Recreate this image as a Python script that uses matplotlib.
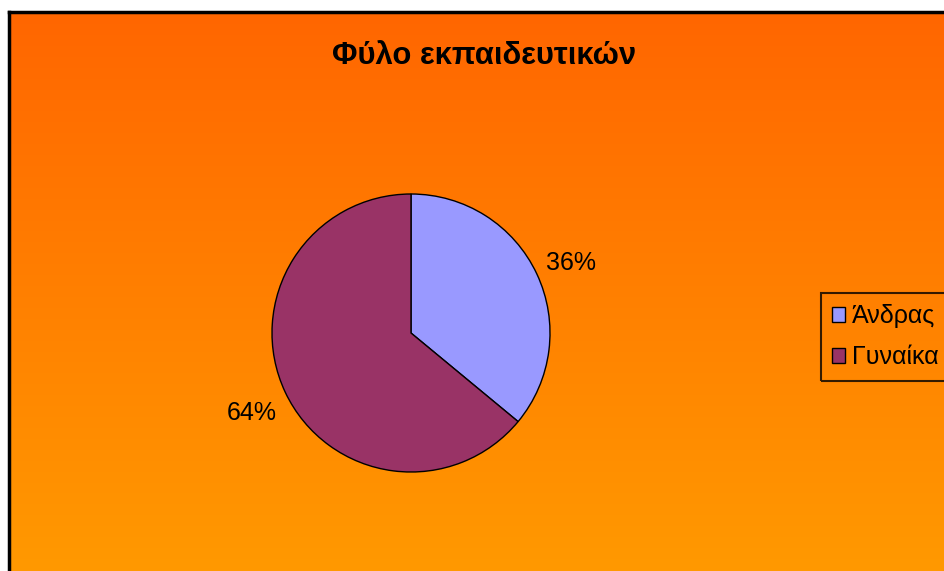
import numpy as np
import matplotlib
matplotlib.use("Agg")
import matplotlib.pyplot as plt
from matplotlib.colors import LinearSegmentedColormap
from matplotlib.patches import Patch

title = "Φύλο εκπαιδευτικών"
categories = ["Άνδρας", "Γυναίκα"]
values = [36, 64]
colors = ["#9999FF", "#993366"]

W, H = 944, 571
fig = plt.figure(figsize=(W / 100, H / 100), dpi=100)
fig.patch.set_facecolor("white")

# background chart area with gradient
bx0, by_top = 9, 12
bg = fig.add_axes([bx0 / W, 0, 1 - bx0 / W, (H - by_top) / H])
cmap = LinearSegmentedColormap.from_list("g", ["#FF9900", "#FF6600"])
grad = np.linspace(0, 1, 256).reshape(-1, 1)
bg.imshow(grad, aspect="auto", cmap=cmap, origin="lower", extent=[0, 1, 0, 1])
bg.set_xlim(0, 1)
bg.set_ylim(0, 1)
bg.set_xticks([])
bg.set_yticks([])
for s in ["right", "bottom"]:
    bg.spines[s].set_visible(False)
for s in ["left", "top"]:
    bg.spines[s].set_linewidth(2.5)
    bg.spines[s].set_color("black")

fig.text(484 / W, 1 - 56 / H, title, ha="center", va="center",
         fontsize=22.3, fontweight="bold", family="Liberation Sans")

# pie
cx, cy, r = 411, 333, 139
ax = fig.add_axes([(cx - r) / W, (H - cy - r) / H, 2 * r / W, 2 * r / H])
ax.set_facecolor("none")
wedges, texts, autotexts = ax.pie(
    values, colors=colors, startangle=90, counterclock=False,
    autopct="%1.0f%%", pctdistance=1.27,
    wedgeprops=dict(edgecolor="black", linewidth=1.0),
    textprops=dict(fontsize=18, family="Liberation Sans", color="black"),
)
for t in autotexts:
    x, y = t.get_position()
    t.set_position((x, y - 5.0 / r))
ax.set_xlim(-1, 1)
ax.set_ylim(-1, 1)
ax.set_aspect("auto")
ax.axis("off")

handles = [Patch(facecolor=c, edgecolor="black", linewidth=1.0) for c in colors]
leg = fig.legend(handles, categories, loc="upper left",
                 bbox_to_anchor=(821 / W, 1 - 293 / H),
                 frameon=True, fancybox=False, facecolor="none",
                 edgecolor="black", prop=dict(family="Liberation Sans", size=18),
                 handlelength=0.52, handleheight=0.52, handletextpad=0.25,
                 borderpad=0.45, labelspacing=0.68, borderaxespad=0)
leg.get_frame().set_linewidth(1.5)

fig.savefig("out.png", dpi=100)
